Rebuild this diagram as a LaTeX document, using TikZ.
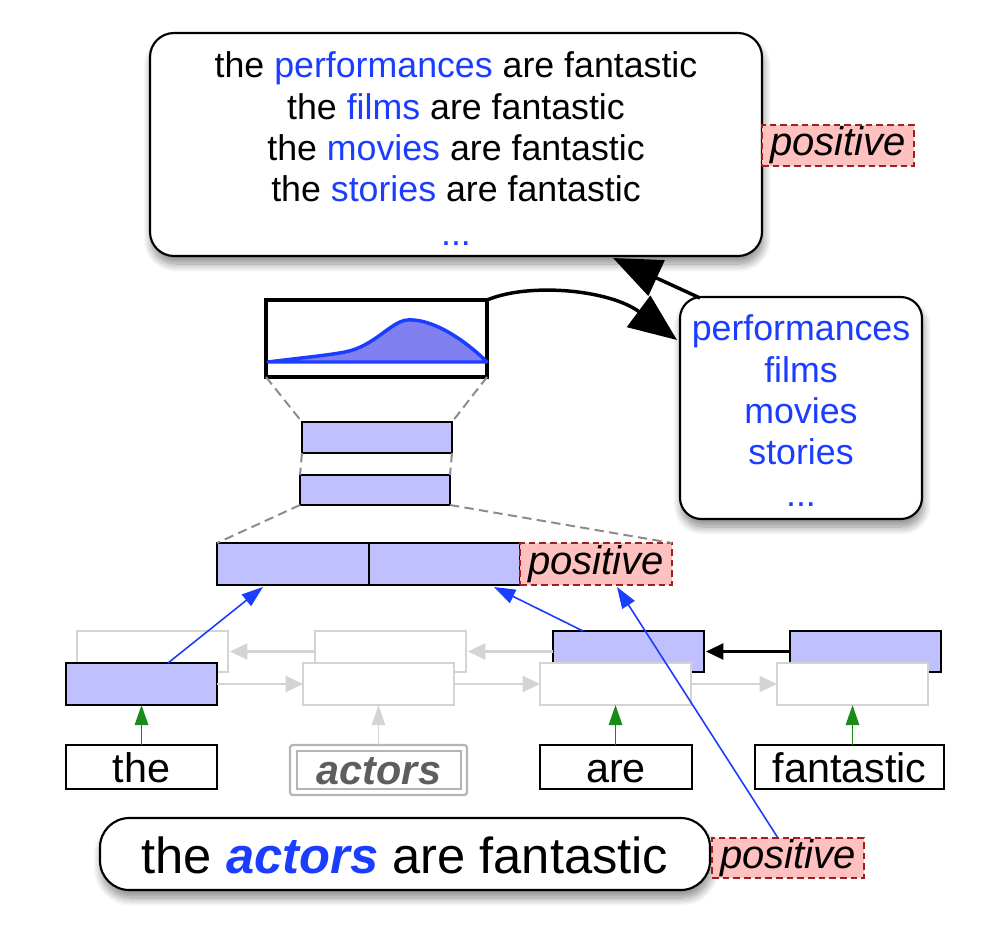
\documentclass[tikz,border=0pt]{standalone}
\usepackage{fontspec}
\setmainfont{Liberation Sans}
\usetikzlibrary{arrows.meta,calc,shadows.blur}
\definecolor{wblue}{HTML}{1A3DFF}
\definecolor{lav}{HTML}{C0C0FF}
\definecolor{curvefill}{HTML}{8080F0}
\definecolor{pinkfill}{HTML}{FFC0C0}
\definecolor{darkred}{HTML}{A02020}
\definecolor{arrgreen}{HTML}{1A8A1A}
\definecolor{lgray}{HTML}{D4D4D4}
\definecolor{dgray}{HTML}{8C8C8C}
\definecolor{actgray}{HTML}{5E5E5E}
\definecolor{actbox}{HTML}{B4B4B4}
\newcommand\szlist{\fontsize{26.8}{32}\selectfont}
\newcommand\szword{\fontsize{31}{36}\selectfont}
\newcommand\szpos{\fontsize{30}{36}\selectfont}
\newcommand\szsent{\fontsize{38}{44}\selectfont}
\begin{document}
\begin{tikzpicture}[x=0.75pt,y=-0.75pt,
  sz/.style 2 args={minimum width=#1*0.75pt, minimum height=#2*0.75pt, inner sep=0pt, outer sep=0pt},
  rbox/.style={draw=black, line width=1.6pt, fill=white,
    blur shadow={shadow xshift=1pt, shadow yshift=-6pt, shadow blur radius=6pt, shadow blur steps=12, shadow opacity=45}},
  hbox/.style={draw=black, line width=1.8pt, fill=lav},
  gbox/.style={draw=lgray, line width=1.6pt, fill=white},
  wbox/.style={draw=black, line width=1.6pt, fill=white, font=\szword, text height=22.5pt, text depth=0pt},
  posbox/.style={draw=darkred, line width=1.4pt, dash pattern=on 5pt off 3pt, fill=pinkfill, font=\szpos\itshape},
  dline/.style={dgray, line width=1.5pt, dash pattern=on 7pt off 4pt},
  barrow/.style={wblue, line width=1.2pt, -{Triangle[length=16pt,width=11pt]}},
  garrow/.style={lgray, line width=1.7pt, -{Triangle[length=13pt,width=12pt]}},
  karrow/.style={black, line width=1.7pt, -{Triangle[length=13pt,width=12pt]}},
  grarrow/.style={arrgreen, line width=1.4pt, -{Triangle[length=15pt,width=10pt]}},
  bigarrow/.style={black, line width=2.6pt, -{Triangle[length=36pt,width=29pt]}},
  lst/.style={anchor=base, font=\szlist, inner sep=0pt}
]
\useasboundingbox (0,0) rectangle (994,924);

% ---------- top box ----------
\node[rbox, rounded corners=18pt, sz={612}{223}] (top) at (456,144.5) {};
\node[lst] (t1) at (456,78) {the \textcolor{wblue}{performances} are fantastic};
\node[lst] (t2) at (456,119) {the \textcolor{wblue}{films} are fantastic};
\node[lst] (t3) at (456,160) {the \textcolor{wblue}{movies} are fantastic};
\node[lst] (t4) at (456,201) {the \textcolor{wblue}{stories} are fantastic};
\node[lst, text=wblue] (t5) at (456,245) {...};
\node[posbox, sz={152}{41}] (postop) at (838,145.5) {positive};

% ---------- word list ----------
\node[rbox, rounded corners=16pt, sz={242}{222}] (wlist) at (801,408) {};
\node[lst, text=wblue] (w1) at (801,340) {performances};
\node[lst, text=wblue] (w2) at (801,382) {films};
\node[lst, text=wblue] (w3) at (801,423) {movies};
\node[lst, text=wblue] (w4) at (801,464) {stories};
\node[lst, text=wblue] (w5) at (801,506) {...};

% ---------- distribution ----------
\node[draw=black, line width=2.6pt, fill=white, sz={221}{77}] (dist) at (376.5,338.5) {};
\fill[curvefill] (268,362) .. controls (300,358) and (330,355) .. (345,352)
  .. controls (375,346) and (390,322) .. (407,320)
  .. controls (432,318) and (465,340) .. (487,362) -- cycle;
\draw[wblue, line width=2.6pt, line join=round] (268,362) .. controls (300,358) and (330,355) .. (345,352)
  .. controls (375,346) and (390,322) .. (407,320)
  .. controls (432,318) and (465,340) .. (487,362) -- cycle;

% ---------- hidden layers ----------
\node[hbox, sz={150}{31}] (h1) at (377,437.5) {};
\node[hbox, sz={150}{30}] (h2) at (375,490) {};
\node[hbox, sz={152}{42}] (m1) at (293,564) {};
\node[hbox, sz={151}{42}] (m2) at (444.5,564) {};
\node[posbox, sz={152}{42}] (mpos) at (596,564) {positive};

\draw[dline] (dist.south west) -- (h1.north west);
\draw[dline] (dist.south east) -- (h1.north east);
\draw[dline] (h1.south west) -- (h2.north west);
\draw[dline] (h1.south east) -- (h2.north east);
\draw[dline] (h2.south west) -- (m1.north west);
\draw[dline] (h2.south east) -- (mpos.north east);

% ---------- biLSTM ----------
\node[gbox, sz={151}{41}] (b1) at (152.5,651.5) {};
\node[gbox, sz={151}{41}] (b2) at (390.5,651.5) {};
\node[hbox, sz={151}{41}] (b3) at (628.5,651.5) {};
\node[hbox, sz={151}{41}] (b4) at (865.5,651.5) {};
\node[hbox, sz={151}{42}] (f1) at (141.5,684) {};
\node[gbox, sz={151}{42}] (f2) at (378.5,684) {};
\node[gbox, sz={151}{42}] (f3) at (615.5,684) {};
\node[gbox, sz={151}{42}] (f4) at (852.5,684) {};

\draw[garrow] (b2.west) -- ($(b1.east)+(2,0)$);
\draw[garrow] (b3.west) -- ($(b2.east)+(2,0)$);
\draw[karrow] (b4.west) -- ($(b3.east)+(2,0)$);
\draw[garrow] (f1.east) -- (f2.west);
\draw[garrow] (f2.east) -- (f3.west);
\draw[garrow] (f3.east) -- (f4.west);

% ---------- words ----------
\node[wbox, sz={151}{44}] (wthe) at (141.5,767) {the};
\node[draw=actbox, line width=1.6pt, rounded corners=2pt, fill=white, sz={177}{50}] (wact) at (378.5,770) {};
\node[draw=actbox, line width=1.6pt, fill=white, sz={164}{38}, font=\szword\bfseries\itshape, text=actgray, text height=22pt, text depth=0pt] (wacti) at (379,770) {actors};
\node[wbox, sz={152}{44}] (ware) at (616,767) {are};
\node[wbox, sz={189}{44}] (wfan) at (849.5,767) {fantastic};

\draw[grarrow] (f1.south |- wthe.north) -- (f1.south);
\draw[lgray, line width=1.4pt, -{Triangle[length=15pt,width=10pt]}] (f2.south |- wact.north) -- (f2.south);
\draw[grarrow] (f3.south |- ware.north) -- (f3.south);
\draw[grarrow] (f4.south |- wfan.north) -- (f4.south);

% ---------- sentence ----------
\node[rbox, rounded corners=22pt, sz={610}{72}, font=\szsent, text height=28.5pt, text depth=0pt] (sent) at (405,854) {the \textcolor{wblue}{\bfseries\itshape actors} are fantastic};
\node[posbox, sz={152}{40}] (bpos) at (788,858) {positive};

% ---------- blue arrows ----------
\draw[barrow] ($(f1.north west)+(102,0)$) -- ($(m1.south west)+(46,2)$);
\draw[barrow] ($(b3.north west)+(30,0)$) -- ($(m2.south west)+(125,2)$);
\draw[barrow] ($(bpos.north west)+(66,0)$) -- ($(mpos.south west)+(97,2)$);

% ---------- big arrows ----------
\draw[bigarrow] (dist.north east) .. controls (530,282) and (610,290) .. ($(wlist.north west)+(-3,43)$);
\draw[bigarrow] ($(wlist.north west)+(20,1)$) -- ($(top.south west)+(463,2)$);
\end{tikzpicture}
\end{document}
